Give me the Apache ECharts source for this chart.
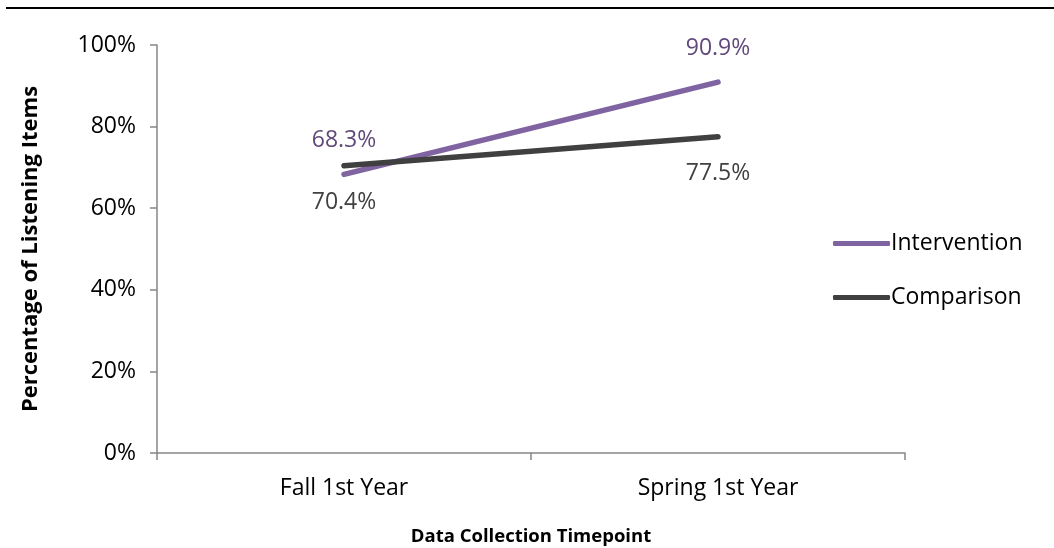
<!DOCTYPE html>
<html>
<head>
<meta charset="utf-8">
<script src="https://cdn.jsdelivr.net/npm/echarts@6/dist/echarts.min.js"></script>
<style>
  html, body { margin: 0; padding: 0; background: #fff; }
  #chart { width: 1054px; height: 548px; }
</style>
</head>
<body>
<div id="chart"></div>
<script>
// 数据
var categories = ['Fall 1st Year', 'Spring 1st Year'];
var intervention = [68.3, 90.9];
var comparison = [70.4, 77.5];
var yTicks = [0, 20, 40, 60, 80, 100];

var fontName = '"Open Sans", Lato, sans-serif';

var myChart = echarts.init(document.getElementById('chart'));

var option = {
    backgroundColor: '#fff',
    animation: false,
    textStyle: { fontFamily: fontName },
    // 顶部横线
    graphic: [{
        type: 'line',
        shape: { x1: 6, y1: 8, x2: 1054, y2: 8 },
        style: { stroke: '#000', lineWidth: 2 }
    }],
    grid: {
        left: 157,
        right: 149,
        top: 45,
        bottom: 95,
        outerBoundsMode: 'none'
    },
    legend: {
        orient: 'vertical',
        left: 828,
        top: 227,
        itemGap: 31,
        itemWidth: 57,
        itemHeight: 5,
        icon: 'roundRect',
        textStyle: { color: '#000', fontSize: 23, fontFamily: fontName, padding: [0, 0, 0, -4] },
        data: ['Intervention', 'Comparison']
    },
    xAxis: {
        type: 'category',
        data: categories,
        name: 'Data Collection Timepoint',
        nameLocation: 'middle',
        nameGap: 74,
        nameTextStyle: { color: '#000', fontSize: 18.5, fontWeight: 'bold', fontFamily: fontName },
        axisLine: { lineStyle: { color: '#868686', width: 1.5 } },
        axisTick: { show: true, length: 7, lineStyle: { color: '#868686', width: 1.5 } },
        axisLabel: { color: '#000', fontSize: 23, margin: 24, fontFamily: fontName }
    },
    yAxis: {
        type: 'value',
        min: 0,
        max: 100,
        interval: 20,
        name: 'Percentage of Listening Items',
        nameLocation: 'middle',
        nameGap: 115,
        nameTextStyle: { color: '#000', fontSize: 22, fontWeight: 'bold', fontFamily: fontName },
        axisLine: { show: true, lineStyle: { color: '#868686', width: 1.5 } },
        axisTick: { show: true, length: 7, lineStyle: { color: '#868686', width: 1.5 } },
        splitLine: { show: false },
        axisLabel: {
            color: '#000',
            fontSize: 23,
            margin: 21,
            fontFamily: fontName,
            formatter: function (v) { return yTicks.indexOf(v) >= 0 ? v + '%' : ''; }
        }
    },
    series: [
        {
            name: 'Intervention',
            type: 'line',
            data: intervention,
            symbol: 'circle',
            symbolSize: 1,
            showSymbol: true,
            itemStyle: { color: '#8064A2' },
            lineStyle: { color: '#8064A2', width: 5.5, cap: 'round' },
            label: {
                show: true,
                position: 'top',
                distance: 22,
                color: '#60497A',
                fontSize: 23,
                fontFamily: fontName,
                formatter: function (p) { return p.value.toFixed(1) + '%'; }
            },
            z: 3
        },
        {
            name: 'Comparison',
            type: 'line',
            data: comparison,
            symbol: 'circle',
            symbolSize: 1,
            showSymbol: true,
            itemStyle: { color: '#404040' },
            lineStyle: { color: '#404040', width: 5.5, cap: 'round' },
            label: {
                show: true,
                position: 'bottom',
                distance: 25,
                color: '#404040',
                fontSize: 23,
                fontFamily: fontName,
                formatter: function (p) { return p.value.toFixed(1) + '%'; }
            },
            z: 4
        }
    ]
};

myChart.setOption(option);
</script>
</body>
</html>
